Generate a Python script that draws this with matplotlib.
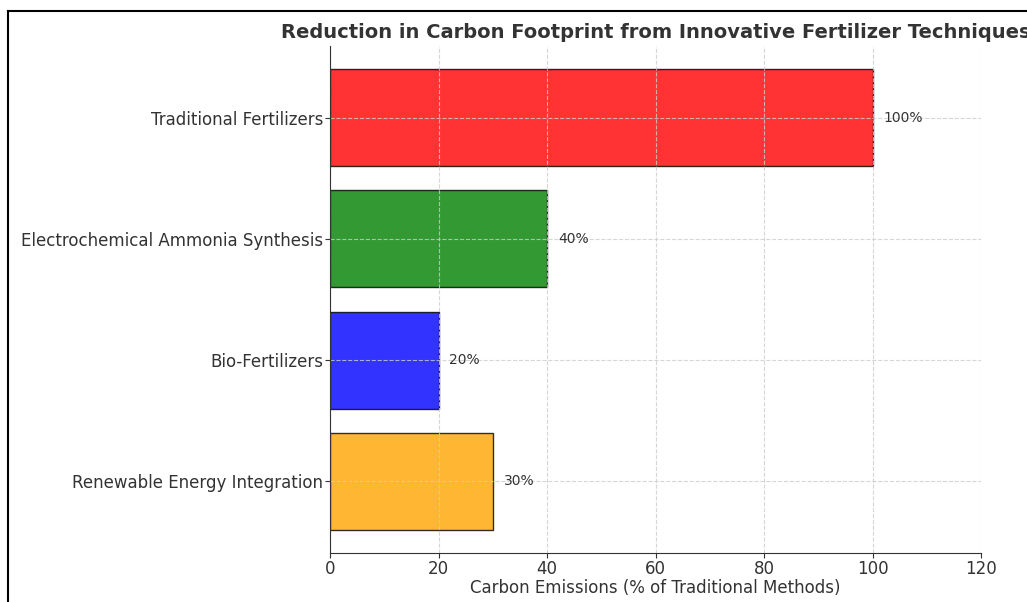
import matplotlib
matplotlib.use("Agg")
import matplotlib.pyplot as plt
from matplotlib.lines import Line2D

# data
techniques = ["Renewable Energy Integration", "Bio-Fertilizers",
              "Electrochemical Ammonia Synthesis", "Traditional Fertilizers"]
emissions = [30, 20, 40, 100]
colors = ["orange", "blue", "green", "red"]

fig = plt.figure(figsize=(10.27, 6.02), dpi=100)
ax = fig.add_axes([330 / 1027, 49 / 602, 651 / 1027, 507 / 602])

ax.barh(techniques, emissions, color=colors, edgecolor="black", alpha=0.8, height=0.8)
for i, v in enumerate(emissions):
    ax.text(v + 2, i, f"{v}%", va="center", fontsize=10, color="#333333")

ax.set_xlim(0, 120)
ax.set_xlabel("Carbon Emissions (% of Traditional Methods)", fontsize=12,
              color="#333333", labelpad=1)
ax.set_title("Reduction in Carbon Footprint from Innovative Fertilizer Techniques",
             fontsize=14, fontweight="bold", color="#333333", pad=6)
ax.tick_params(axis="both", labelsize=12, colors="#333333", pad=1.5)
ax.grid(True, linestyle="--", color="#cccccc", alpha=0.8, linewidth=0.8)
ax.spines["top"].set_visible(False)
ax.spines["right"].set_visible(False)
for s in ["left", "bottom"]:
    ax.spines[s].set_color("#333333")

# frame of the cropped screenshot
fig.add_artist(Line2D([8 / 1027, 8 / 1027], [0, 1 - 11 / 602], color="black", lw=1.5,
                      transform=fig.transFigure))
fig.add_artist(Line2D([8 / 1027, 1], [1 - 11 / 602, 1 - 11 / 602], color="black", lw=1.5,
                      transform=fig.transFigure))

fig.savefig("out.png", dpi=100)
